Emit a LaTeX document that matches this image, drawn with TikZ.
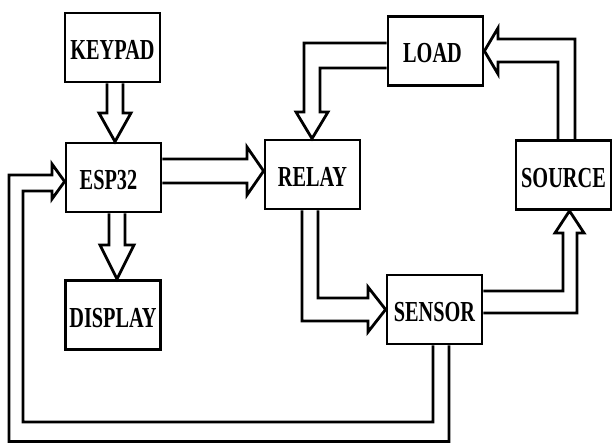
\documentclass[tikz,border=0pt]{standalone}
\usepackage{fontspec}
\newfontfamily\lblfont[FakeStretch=0.70]{Liberation Serif}
\begin{document}
\begin{tikzpicture}[x=1pt,y=-1pt,
  blk/.style={draw=black, line width=2.8pt, minimum width=95pt, minimum height=69pt,
    inner sep=0pt, text height=24pt, text depth=0pt,
    font=\lblfont\bfseries\fontsize{29}{32}\selectfont},
  fat/.style={draw=black, line width=2.8pt, line join=miter, miter limit=20}]
\useasboundingbox (0,0) rectangle (613,444);
% blocks
\node[blk] (kp)     at (112.5,47.5) {KEYPAD};
\node[blk] (esp)    at (113.5,177.5) {\kern-10pt ESP32};
\node[blk] (disp)   at (113,315) {DISPLAY};
\node[blk] (relay)  at (312.5,174.5) {RELAY};
\node[blk] (load)   at (435.5,51) {\kern-6pt LOAD};
\node[blk] (source) at (563.5,175) {SOURCE};
\node[blk] (sensor) at (434.5,309.5) {SENSOR};
% KEYPAD -> ESP32
\draw[fat] (kp.south -| 107,0) -- (107,113) -- (99,113) -- (esp.north -| 115,0)
  -- (131,113) -- (123,113) -- (kp.south -| 123,0);
% ESP32 -> DISPLAY
\draw[fat] (esp.south -| 109,0) -- (109,245) -- (100,245) -- (disp.north -| 117,0)
  -- (134,245) -- (125,245) -- (esp.south -| 125,0);
% ESP32 -> RELAY
\draw[fat] (esp.east |- 0,159) -- (247,159) -- (247,147) -- (relay.west |- 0,171)
  -- (247,195) -- (247,183) -- (esp.east |- 0,183);
% LOAD -> RELAY
\draw[fat] (load.west |- 0,43) -- (304,43) -- (304,112) -- (296,112)
  -- (relay.north -| 312,0) -- (328,112) -- (320,112) -- (320,68) -- (load.west |- 0,68);
% SOURCE -> LOAD
\draw[fat] (source.north -| 575,0) -- (575,39) -- (498,39) -- (498,28)
  -- (load.east |- 0,51) -- (498,74) -- (498,62) -- (558,62) -- (source.north -| 558,0);
% RELAY -> SENSOR
\draw[fat] (relay.south -| 302,0) -- (302,321) -- (368,321) -- (368,332)
  -- (sensor.west |- 0,309.5) -- (368,287) -- (368,298) -- (318,298) -- (relay.south -| 318,0);
% SENSOR -> SOURCE
\draw[fat] (sensor.east |- 0,291) -- (563,291) -- (563,233) -- (555,233)
  -- (source.south -| 569.5,0) -- (584,233) -- (577,233) -- (577,313) -- (sensor.east |- 0,313);
% SENSOR -> ESP32 (feedback)
\draw[fat] (sensor.south -| 449,0) -- (449,441.5) -- (9,441.5) -- (9,175) -- (52,175) -- (52,164)
  -- (esp.west |- 0,181.5) -- (52,199) -- (52,191) -- (23,191) -- (23,422) -- (433,422)
  -- (sensor.south -| 433,0);
\end{tikzpicture}
\end{document}
